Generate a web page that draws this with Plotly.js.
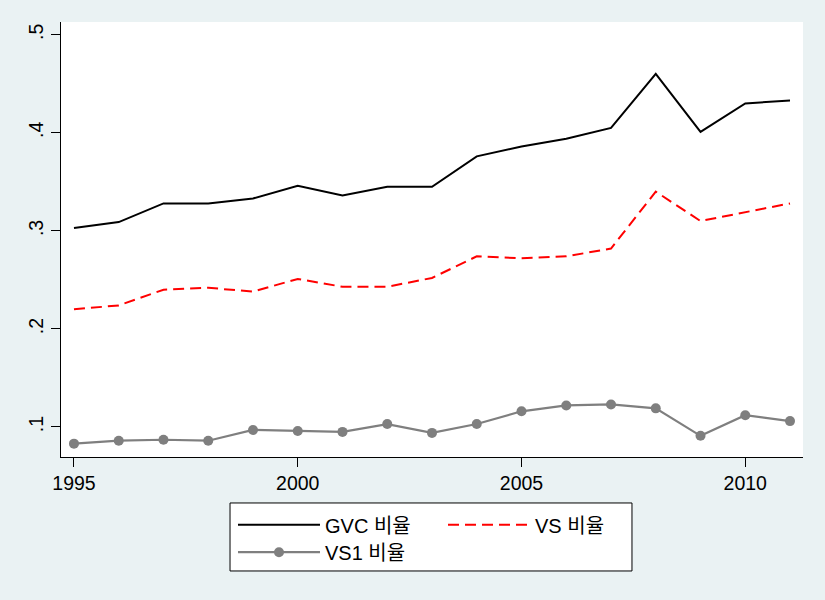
<!DOCTYPE html>
<html>
<head>
<meta charset="utf-8">
<script src="https://cdn.plot.ly/plotly-3.0.1.min.js"></script>
<style>html,body{margin:0;padding:0;background:#EAF2F3;}</style>
</head>
<body>
<div id="chart" style="width:825px;height:600px;"></div>
<script>
const years = [1995,1996,1997,1998,1999,2000,2001,2002,2003,2004,2005,2006,2007,2008,2009,2010,2011];
const gvcRatio = [0.303,0.309,0.328,0.328,0.333,0.346,0.336,0.345,0.345,0.376,0.386,0.394,0.405,0.460,0.401,0.430,0.433];
const vsRatio = [0.220,0.224,0.240,0.242,0.238,0.251,0.243,0.243,0.252,0.274,0.272,0.274,0.282,0.340,0.310,0.319,0.328];
const vs1Ratio = [0.083,0.086,0.087,0.086,0.097,0.096,0.095,0.103,0.094,0.103,0.116,0.122,0.123,0.119,0.091,0.112,0.106];
const names = ['GVC 비율','VS 비율','VS1 비율'];
const yTickVals = [0.1,0.2,0.3,0.4,0.5];
const yTickText = ['.1','.2','.3','.4','.5'];
const xTickVals = [1995,2000,2005,2010];

const FONT = 'Liberation Sans, Arial, Noto Sans CJK KR, sans-serif';

const traces = [
  {x: years, y: gvcRatio, name: names[0], type: 'scatter', mode: 'lines',
   line: {color: '#000000', width: 2}, legend: 'legend'},
  {x: years, y: vsRatio, name: names[1], type: 'scatter', mode: 'lines',
   line: {color: '#FF0000', width: 2, dash: '11px,6px'}, legend: 'legend'},
  {x: years, y: vs1Ratio, name: names[2], type: 'scatter', mode: 'lines+markers',
   line: {color: '#7F7F7F', width: 2.2}, marker: {color: '#7F7F7F', size: 10},
   legend: 'legend2'}
];

const layout = {
  width: 825, height: 600,
  paper_bgcolor: '#EAF2F3', plot_bgcolor: '#FFFFFF',
  margin: {l: 61, r: 22, t: 22, b: 143},
  font: {family: FONT, size: 19.5, color: '#000000'},
  showlegend: true,
  xaxis: {
    range: [1994.71, 2011.29], tickvals: xTickVals, ticks: 'outside', ticklen: 9,
    tickcolor: '#000', showline: true, linecolor: '#000', linewidth: 1,
    showgrid: false, zeroline: false, tickfont: {size: 19.5, family: FONT}
  },
  yaxis: {
    range: [0.0694, 0.513], tickvals: yTickVals, ticktext: yTickText, ticks: 'outside', ticklen: 9,
    tickcolor: '#000', showline: true, linecolor: '#000', linewidth: 1, tickangle: -90,
    showgrid: false, zeroline: false, tickfont: {size: 19.5, family: FONT}
  },
  legend: {
    orientation: 'h', x: 0.2318, xanchor: 'left', y: -0.111, yanchor: 'top',
    bgcolor: 'rgba(0,0,0,0)', borderwidth: 0, itemwidth: 82, entrywidth: 113,
    font: {size: 20, family: FONT}, tracegroupgap: 0
  },
  legend2: {
    orientation: 'h', x: 0.2318, xanchor: 'left', y: -0.174, yanchor: 'top',
    bgcolor: 'rgba(0,0,0,0)', borderwidth: 0, itemwidth: 82,
    font: {size: 20, family: FONT}
  },
  shapes: [{
    type: 'rect', xref: 'paper', yref: 'paper',
    x0: 0.2278, x1: 0.7695, y0: -0.262, y1: -0.1057,
    line: {color: '#000', width: 1}, fillcolor: '#FFFFFF', layer: 'below'
  }]
};

Plotly.newPlot('chart', traces, layout, {displayModeBar: false, staticPlot: true});
</script>
</body>
</html>
